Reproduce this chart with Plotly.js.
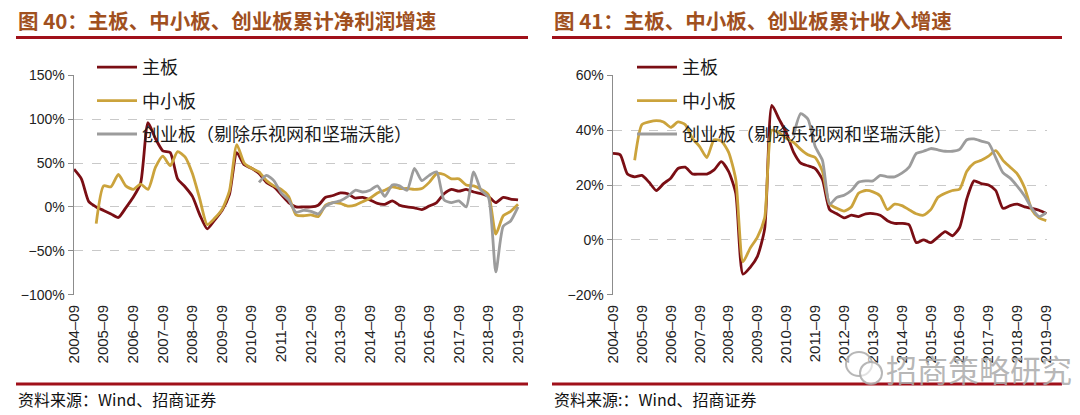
<!DOCTYPE html>
<html>
<head>
<meta charset="utf-8">
<script src="https://cdn.plot.ly/plotly-3.0.1.min.js"></script>
<style>
html,body{margin:0;padding:0;background:#fff;}
#chart{width:1080px;height:415px;}
</style>
</head>
<body>
<div id="chart"></div>
<script>
// ---------- data ----------
const quarters = [
  "2004-09","2004-12",
  "2005-03","2005-06","2005-09","2005-12",
  "2006-03","2006-06","2006-09","2006-12",
  "2007-03","2007-06","2007-09","2007-12",
  "2008-03","2008-06","2008-09","2008-12",
  "2009-03","2009-06","2009-09","2009-12",
  "2010-03","2010-06","2010-09","2010-12",
  "2011-03","2011-06","2011-09","2011-12",
  "2012-03","2012-06","2012-09","2012-12",
  "2013-03","2013-06","2013-09","2013-12",
  "2014-03","2014-06","2014-09","2014-12",
  "2015-03","2015-06","2015-09","2015-12",
  "2016-03","2016-06","2016-09","2016-12",
  "2017-03","2017-06","2017-09","2017-12",
  "2018-03","2018-06","2018-09","2018-12",
  "2019-03","2019-06","2019-09"
];
const tickQuarters = ["2004-09","2005-09","2006-09","2007-09","2008-09","2009-09","2010-09","2011-09",
  "2012-09","2013-09","2014-09","2015-09","2016-09","2017-09","2018-09","2019-09"];
const tickLabels = ["2004–09","2005–09","2006–09","2007–09","2008–09","2009–09","2010–09","2011–09",
  "2012–09","2013–09","2014–09","2015–09","2016–09","2017–09","2018–09","2019–09"];
const seriesNames = ["主板","中小板","创业板（剔除乐视网和坚瑞沃能）"];

// Fig 40: cumulative net profit growth (%)
const profitMain = [43,32,6,0,-4,-8,-12,-1,11,27,96,78,64,62,32,23,12,-9,-25,-15,-4,14,62,48,44,38,28,23,14,5,
  0,0,0,2,11,13,16,15,10,11,8,4,3,7,2,0,-1,-3,1,5,15,20,18,20,17,15,12,5,11,9,8];
const profitSME = [null,null,null,-19,24,23,37,24,20,26,20,45,58,47,63,57,38,9,-20,-13,-3,18,71,50,44,40,30,24,20,12,
  -9,-10,-9,-11,2,5,4,1,2,6,10,16,19,23,21,21,20,21,28,38,37,32,32,25,24,20,14,-31,-10,-5,3];
const profitGEM = [null,null,null,null,null,null,null,null,null,null,null,null,null,null,null,null,null,null,null,null,
  null,null,null,null,null,28,36,30,16,8,-6,-4,-5,-8,1,5,7,12,19,17,19,24,12,25,24,19,44,30,36,40,8,5,7,0,40,19,11,-74,-22,-16,0];

// Fig 41: cumulative revenue growth (%)
const revMain = [31.5,31,24,23,23.5,21,18,20.5,22.5,26,26.5,24,24,24,25.5,28.5,25,17,-12.5,-10,-6,4,49,44,39,32,28,27,26,22,
  11,9.5,8,9,8.5,9.5,9.6,9,7,6,6,5.5,-1,0,-1,1,3,1.5,4.5,15,21.5,20.5,20,18,11.5,12.5,13,12,11.5,10.8,9.6];
const revSME = [null,null,null,29,42,43,43.5,43,41,43,42,37,34,30,36.5,36,32,22,-8,-3,1,8,40,39,37,35.5,33,31,30,25,
  13,11.5,10.5,12,17,18,17.5,16,11,13,12.5,11,9.5,9,11,15.5,17,18,18.5,25,28,29,30.5,32.5,29,26.5,24,19,11,8,7];
const revGEM = [null,null,null,null,null,null,null,null,null,null,null,null,null,null,null,null,null,null,null,null,
  null,null,null,null,null,38,46,44,34,29,13,15.5,16.3,18,21,21.5,21.5,23.5,23,23,24.3,26.5,31.5,32.3,33.3,32.8,32.3,32.3,33,36.5,
  36.8,36,35.3,30,24.5,22.5,19.5,16,11.5,8.5,10];

const chartTitles = ["图 40：主板、中小板、创业板累计净利润增速","图 41：主板、中小板、创业板累计收入增速"];
const sources = ["资料来源：Wind、招商证券","资料来源:：Wind、招商证券"];
const watermark = "招商策略研究";

// ---------- styling ----------
const colors = ["#7A0E14","#CBA33C","#9C9C9C"];
const W = 1080, H = 415;
const px = v => v / W;
const py = v => 1 - v / H;
const cjk = '"Noto Sans CJK SC", sans-serif';
const latin = '"Liberation Sans", Arial, sans-serif';

function mk(y, i, xa, ya, lg, grp) {
  return {
    x: quarters, y: y, name: seriesNames[i], type: 'scatter', mode: 'lines',
    line: {color: colors[i], width: 2.8, shape: 'spline', smoothing: 0.6},
    xaxis: xa, yaxis: ya, legend: lg, legendgroup: grp + i, connectgaps: false,
    hoverinfo: 'skip'
  };
}
const data = [
  mk(profitMain,0,'x','y','legend','L'), mk(profitSME,1,'x','y','legend','L'), mk(profitGEM,2,'x','y','legend','L'),
  mk(revMain,0,'x2','y2','legend2','R'), mk(revSME,1,'x2','y2','legend2','R'), mk(revGEM,2,'x2','y2','legend2','R')
];

const yDom = [py(295), py(75)];
const xDomL = [px(74), px(521)];
const xDomR = [px(613), px(1047)];
const tickIdx = tickQuarters.map(t => quarters.indexOf(t));

const baseX = {
  type: 'category', categoryorder: 'array', categoryarray: quarters,
  tickvals: tickQuarters, ticktext: tickLabels, tickangle: -90,
  showgrid: false, showline: false, zeroline: false, ticks: '', ticklabelstandoff: 6,
  tickfont: {family: latin, size: 15, color: '#222'}
};
const zeroAxis = {
  type: 'linear', tickvals: tickIdx, showticklabels: false, showgrid: false, zeroline: false,
  showline: true, linecolor: '#8C8C8C', linewidth: 1.5, ticks: 'outside', ticklen: 7,
  tickcolor: '#8C8C8C', tickwidth: 1.3, anchor: 'free'
};
const baseY = {
  showgrid: true, gridcolor: '#C9C9C9', griddash: 'dash', gridwidth: 1,
  showline: true, linecolor: '#8C8C8C', linewidth: 1.5, ticks: 'outside', ticklen: 5,
  tickcolor: '#8C8C8C', zeroline: false, ticksuffix: '%',
  tickfont: {family: latin, size: 14, color: '#222'}, domain: yDom
};
const legendBase = {
  orientation: 'v', xanchor: 'left', yanchor: 'top', bgcolor: 'rgba(0,0,0,0)',
  font: {family: cjk, size: 18, color: '#1A1A1A'}, tracegroupgap: 7,
  traceorder: 'grouped', itemwidth: 40
};

const layout = {
  width: W, height: H, margin: {l: 0, r: 0, t: 0, b: 0},
  paper_bgcolor: '#fff', plot_bgcolor: 'rgba(0,0,0,0)',
  font: {family: latin, color: '#222'},
  showlegend: true,
  xaxis: Object.assign({}, baseX, {domain: xDomL, anchor: 'y', range: [0, 60.4]}),
  xaxis2: Object.assign({}, baseX, {domain: xDomR, anchor: 'y2', range: [0, 60.1]}),
  xaxis3: Object.assign({}, zeroAxis, {overlaying: 'x', range: [0, 60.4], position: yDom[0] + 0.4 * (yDom[1] - yDom[0])}),
  xaxis4: Object.assign({}, zeroAxis, {overlaying: 'x2', range: [0, 60.1], position: yDom[0] + 0.25 * (yDom[1] - yDom[0])}),
  yaxis: Object.assign({}, baseY, {anchor: 'x', range: [-100.3, 150.3], dtick: 50, tick0: 0}),
  yaxis2: Object.assign({}, baseY, {anchor: 'x2', range: [-20.1, 60.1], dtick: 20, tick0: 0}),
  legend: Object.assign({}, legendBase, {x: px(92), y: py(49)}),
  legend2: Object.assign({}, legendBase, {x: px(632), y: py(49)}),
  annotations: [
    {text: chartTitles[0], xref: 'paper', yref: 'paper', x: px(16), y: py(20), xanchor: 'left', yanchor: 'middle',
     showarrow: false, font: {family: cjk, size: 20.5, color: '#A0501E', weight: 'bold'}},
    {text: chartTitles[1], xref: 'paper', yref: 'paper', x: px(552), y: py(20), xanchor: 'left', yanchor: 'middle',
     showarrow: false, font: {family: cjk, size: 20.5, color: '#A0501E', weight: 'bold'}},
    {text: sources[0], xref: 'paper', yref: 'paper', x: px(16), y: py(399), xanchor: 'left', yanchor: 'middle',
     showarrow: false, font: {family: cjk, size: 16, color: '#111'}},
    {text: sources[1], xref: 'paper', yref: 'paper', x: px(552), y: py(399), xanchor: 'left', yanchor: 'middle',
     showarrow: false, font: {family: cjk, size: 16, color: '#111'}},
    {text: watermark, xref: 'paper', yref: 'paper', x: px(884), y: py(368), xanchor: 'left', yanchor: 'middle',
     showarrow: false, font: {family: cjk, size: 31, color: 'rgba(170,170,170,0.85)'}}
  ],
  shapes: [
    {type: 'line', xref: 'paper', yref: 'paper', x0: px(16), x1: px(528), y0: py(37.5), y1: py(37.5),
     line: {color: '#A0101A', width: 3}},
    {type: 'line', xref: 'paper', yref: 'paper', x0: px(552), x1: px(1062), y0: py(37.5), y1: py(37.5),
     line: {color: '#A0101A', width: 3}},
    {type: 'line', xref: 'paper', yref: 'paper', x0: px(16), x1: px(528), y0: py(384), y1: py(384),
     line: {color: '#A0101A', width: 3}},
    {type: 'line', xref: 'paper', yref: 'paper', x0: px(552), x1: px(1062), y0: py(384), y1: py(384),
     line: {color: '#A0101A', width: 3}},
    {type: 'circle', xref: 'paper', yref: 'paper', x0: px(846), x1: px(872), y0: py(376), y1: py(352),
     line: {color: 'rgba(170,170,170,0.85)', width: 2}, fillcolor: 'rgba(255,255,255,0.6)'},
    {type: 'circle', xref: 'paper', yref: 'paper', x0: px(860), x1: px(882), y0: py(384), y1: py(362),
     line: {color: 'rgba(170,170,170,0.85)', width: 2}, fillcolor: 'rgba(255,255,255,0.6)'}
  ]
};

Plotly.newPlot('chart', data, layout, {displayModeBar: false, staticPlot: true});
</script>
</body>
</html>
